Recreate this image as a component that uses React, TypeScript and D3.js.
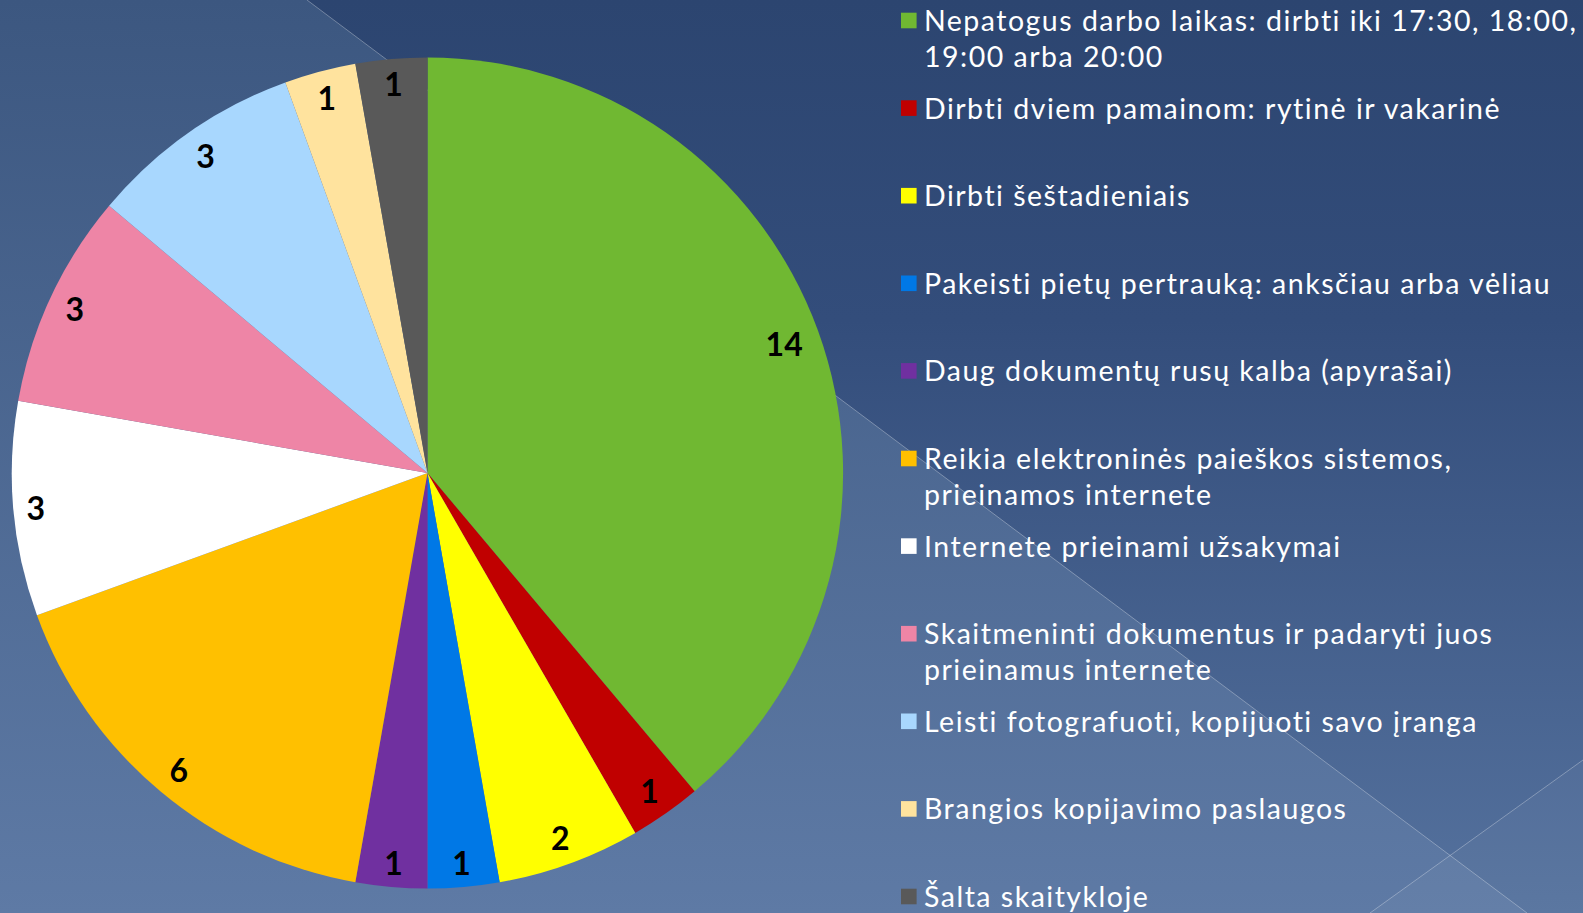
import React from 'react';
import * as d3 from 'd3';

// survey answers: what readers find inconvenient in the reading room
const categories = [
  'Nepatogus darbo laikas: dirbti iki 17:30, 18:00, 19:00 arba 20:00',
  'Dirbti dviem pamainom: rytinė ir vakarinė',
  'Dirbti šeštadieniais',
  'Pakeisti pietų pertrauką: anksčiau arba vėliau',
  'Daug dokumentų rusų kalba (apyrašai)',
  'Reikia elektroninės paieškos sistemos, prieinamos internete',
  'Internete prieinami užsakymai',
  'Skaitmeninti dokumentus ir padaryti juos prieinamus internete',
  'Leisti fotografuoti, kopijuoti savo įranga',
  'Brangios kopijavimo paslaugos',
  'Šalta skaitykloje',
];

// how the legend wraps the long names
const legendLines = [
  ['Nepatogus darbo laikas: dirbti iki 17:30, 18:00,', '19:00 arba 20:00'],
  ['Dirbti dviem pamainom: rytinė ir vakarinė'],
  ['Dirbti šeštadieniais'],
  ['Pakeisti pietų pertrauką: anksčiau arba vėliau'],
  ['Daug dokumentų rusų kalba (apyrašai)'],
  ['Reikia elektroninės paieškos sistemos,', 'prieinamos internete'],
  ['Internete prieinami užsakymai'],
  ['Skaitmeninti dokumentus ir padaryti juos', 'prieinamus internete'],
  ['Leisti fotografuoti, kopijuoti savo įranga'],
  ['Brangios kopijavimo paslaugos'],
  ['Šalta skaitykloje'],
];

const values = [14, 1, 2, 1, 1, 6, 3, 3, 3, 1, 1];

const colors = [
  '#70b832', '#c00000', '#ffff00', '#0078e6', '#7030a0', '#ffc000',
  '#ffffff', '#ee85a6', '#a8d7fe', '#ffe39e', '#595959',
];

const W = 1583;
const H = 913;
const cx = 427.5;
const cy = 473;
const R = 415.6;

const labelFont = 32;
const legendFont = 28.5;

export default function App() {
  const pie = d3.pie<number>().sort(null).value(d => d);
  const arcs = pie(values);
  const arc = d3.arc<d3.PieArcDatum<number>>().innerRadius(0).outerRadius(R);

  // line 1 of the background, (307,0) -> (1527,913); line 2 (1370,913) -> (1583,760)
  const k1 = 913 / (1527 - 307);
  const x1AtY = (y: number) => 307 + y / k1;

  const legendX = 901;
  const step = 87.6;

  // "inside end" labels: keep the text box off the rim
  const labelPos = (a: d3.PieArcDatum<number>, text: string) => {
    const mid = (a.startAngle + a.endAngle) / 2;
    const s = Math.sin(mid);
    const c = -Math.cos(mid);
    const hw = text.length * 11 + 2;
    const hh = 16;
    const d = R - 8 - (Math.abs(s) * hw + Math.abs(c) * hh);
    return [cx + s * d, cy + c * d];
  };

  return (
    <svg
      width={W}
      height={H}
      style={{ position: 'absolute', left: 0, top: 0, display: 'block' }}
    >
      <defs>
        <linearGradient id="bgR" x1="0" y1="0" x2="0" y2="1">
          <stop offset="0" stopColor="#2c4570" />
          <stop offset="0.35" stopColor="#334d7b" />
          <stop offset="1" stopColor="#55729e" />
        </linearGradient>
        <linearGradient id="bgL" x1="0" y1="0" x2="0" y2="1">
          <stop offset="0" stopColor="#3c5780" />
          <stop offset="1" stopColor="#5e7aa5" />
        </linearGradient>
      </defs>

      <rect x={0} y={0} width={W} height={H} fill="url(#bgR)" />
      <polygon
        points={`0,0 ${x1AtY(0)},0 ${x1AtY(H)},${H} 0,${H}`}
        fill="url(#bgL)"
      />
      <polygon points={`1370,${H} ${W},760 ${W},${H}`} fill="#ffffff" opacity={0.04} />
      <line x1={x1AtY(0)} y1={0} x2={x1AtY(H)} y2={H} stroke="#ffffff" strokeOpacity={0.3} />
      <line x1={1370} y1={H} x2={W} y2={760} stroke="#ffffff" strokeOpacity={0.3} />

      <g transform={`translate(${cx},${cy})`}>
        {arcs.map((a, i) => (
          <path key={categories[i]} d={arc(a) || ''} fill={colors[i]} />
        ))}
      </g>

      {arcs.map((a, i) => {
        const t = String(values[i]);
        const [x, y] = labelPos(a, t);
        return (
          <text
            key={'l' + i}
            x={x}
            y={y}
            textAnchor="middle"
            dominantBaseline="central"
            fontFamily="Lato, 'Liberation Sans', sans-serif"
            fontWeight="bold"
            fontSize={labelFont}
            fill="#000000"
          >
            {t}
          </text>
        );
      })}

      {legendLines.map((lines, i) => {
        const base = 31 + i * step;
        return (
          <g key={'g' + i}>
            <rect x={legendX} y={base - 18.3} width={15.6} height={15.6} fill={colors[i]} />
            {lines.map((ln, j) => (
              <text
                key={j}
                x={legendX + 23}
                y={base + j * 36}
                fontFamily="Lato, 'DejaVu Sans', sans-serif"
                fontSize={legendFont}
                letterSpacing={1.5}
                fill="#ffffff"
              >
                {ln}
              </text>
            ))}
          </g>
        );
      })}
    </svg>
  );
}
